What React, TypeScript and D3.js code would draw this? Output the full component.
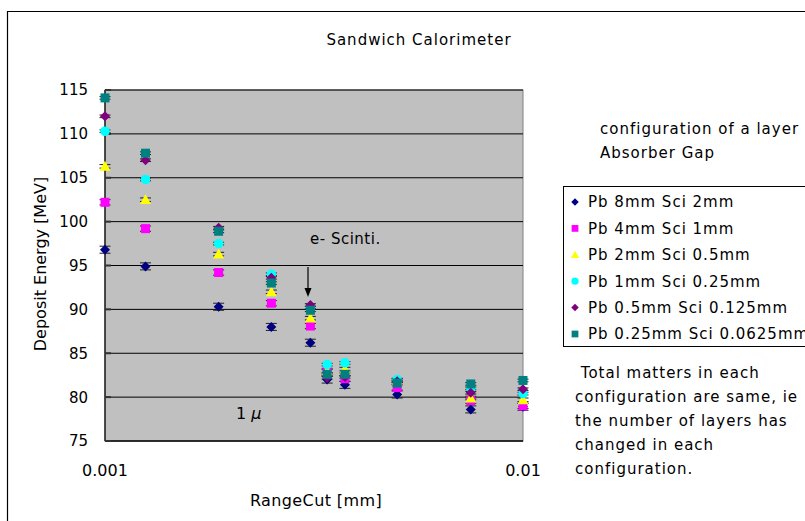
import React from "react";
import * as d3 from "d3";

const rangeCuts = [0.001, 0.00125, 0.00187, 0.0025, 0.0031, 0.0034, 0.00375, 0.005, 0.0075, 0.01];
const seriesNames = [
  "Pb 8mm Sci 2mm",
  "Pb 4mm Sci 1mm",
  "Pb 2mm Sci 0.5mm",
  "Pb 1mm Sci 0.25mm",
  "Pb 0.5mm Sci 0.125mm",
  "Pb 0.25mm Sci 0.0625mm",
];
const pb8 = [96.8, 94.9, 90.3, 88.0, 86.2, 82.0, 81.4, 80.3, 78.6, 78.9];
const pb4 = [102.2, 99.2, 94.2, 90.7, 88.1, 82.9, 82.1, 81.1, 79.6, 79.0];
const pb2 = [106.3, 102.5, 96.3, 92.0, 89.0, 83.0, 83.2, 81.9, 79.9, 79.7];
const pb1 = [110.3, 104.8, 97.5, 94.0, 90.2, 83.7, 83.9, 82.0, 81.0, 80.4];
const pb05 = [112.0, 107.0, 99.3, 93.6, 90.5, 82.2, 82.3, 81.8, 80.5, 80.9];
const pb025 = [114.1, 107.8, 98.9, 93.0, 89.9, 82.6, 82.6, 81.6, 81.5, 81.9];
const seriesErrors = [0.4, 0.3, 0.2, 0.15, 0.15, 0.15];
const yTicks = [75, 80, 85, 90, 95, 100, 105, 110, 115];
const xTickLabels = [
  { v: 0.001, label: "0.001" },
  { v: 0.01, label: "0.01" },
];
const colors = ["#000080", "#FF00FF", "#FFFF00", "#00FFFF", "#800080", "#008080"];
const shapes = ["diamond", "square", "triangle", "circle", "diamond", "square"];
const noteLines = [
  " Total matters in each",
  "configuration are same, ie",
  "the number of layers has",
  "changed in each",
  "configuration.",
];

const FONT = "'DejaVu Sans', sans-serif";

function Marker({ shape, x, y, color, s = 1 }: any) {
  if (shape === "diamond") {
    const r = 5 * s;
    return <path d={`M${x},${y - r}L${x + r},${y}L${x},${y + r}L${x - r},${y}Z`} fill={color} />;
  }
  if (shape === "square") {
    const r = 4.5 * s;
    return <rect x={x - r} y={y - r} width={2 * r} height={2 * r} fill={color} />;
  }
  if (shape === "triangle") {
    const r = 5.5 * s;
    return <path d={`M${x},${y - r}L${x + r},${y + r * 0.8}L${x - r},${y + r * 0.8}Z`} fill={color} />;
  }
  return <circle cx={x} cy={y} r={4.8 * s} fill={color} />;
}

export default function App() {
  const W = 805, H = 521;
  const left = 105, right = 523, top = 90, bottom = 441;
  const x = d3.scaleLog().domain([0.001, 0.01]).range([left, right]);
  const y = d3.scaleLinear().domain([75, 115]).range([bottom, top]);
  const all = [pb8, pb4, pb2, pb1, pb05, pb025];

  return (
    <svg width={W} height={H} style={{ position: "absolute", left: 0, top: 0, background: "#fff" }} fontFamily={FONT}>
      <rect x={0} y={0} width={W} height={H} fill="#fff" />
      {/* chart frame */}
      <path d={`M7.5,${H}V11.5H${W}`} fill="none" stroke="#000" strokeWidth={1.2} />
      {/* plot area */}
      <rect x={left} y={top} width={right - left} height={bottom - top} fill="#C0C0C0" stroke="#808080" strokeWidth={1} />
      {yTicks.map((t) => (
        <line key={t} x1={left} x2={right} y1={y(t)} y2={y(t)} stroke="#000" strokeWidth={1} />
      ))}
      <line x1={left} x2={left} y1={top} y2={bottom} stroke="#000" strokeWidth={1.2} />
      <line x1={left} x2={right} y1={bottom} y2={bottom} stroke="#000" strokeWidth={1.2} />
      {yTicks.map((t) => (
        <line key={"tk" + t} x1={left} x2={left + 6} y1={y(t)} y2={y(t)} stroke="#333" strokeWidth={2} />
      ))}
      {yTicks.map((t) => (
        <text key={"yl" + t} x={88} y={y(t)} dy="0.36em" textAnchor="end" fontSize={15}>
          {t}
        </text>
      ))}
      {xTickLabels.map((t) => (
        <text key={t.label} x={x(t.v)} y={470} dy="0.36em" textAnchor="middle" fontSize={16}>
          {t.label}
        </text>
      ))}
      <text x={316} y={500} dy="0.36em" textAnchor="middle" fontSize={16} letterSpacing={0.4}>RangeCut [mm]</text>
      <text transform={`translate(40,264) rotate(-90)`} dy="0.36em" textAnchor="middle" fontSize={16}>
        Deposit Energy [MeV]
      </text>
      <text x={419} y={40} dy="0.36em" textAnchor="middle" fontSize={15} letterSpacing={1}>Sandwich Calorimeter</text>

      {/* error bars */}
      {all.map((vals, si) =>
        vals.map((v, i) => {
          const cx = x(rangeCuts[i]);
          const e = seriesErrors[si];
          const y1 = y(v + e), y2 = y(v - e);
          return (
            <g key={`e${si}-${i}`} stroke="#202020" strokeWidth={1}>
              <line x1={cx} x2={cx} y1={y1} y2={y2} />
              <line x1={cx - 5.5} x2={cx + 5.5} y1={y1} y2={y1} />
              <line x1={cx - 5.5} x2={cx + 5.5} y1={y2} y2={y2} />
            </g>
          );
        })
      )}
      {/* markers */}
      {all.map((vals, si) =>
        vals.map((v, i) => (
          <Marker key={`m${si}-${i}`} shape={shapes[si]} x={x(rangeCuts[i])} y={y(v)} color={colors[si]} />
        ))
      )}

      {/* annotations */}
      <text x={310} y={239} dy="0.36em" textAnchor="start" fontSize={15} letterSpacing={0.5}>e- Scinti.</text>
      <line x1={308} x2={308} y1={267} y2={291} stroke="#000" strokeWidth={1.2} />
      <path d="M304.5,288L308,297L311.5,288Z" fill="#000" />
      <text x={236} y={413} dy="0.36em" fontSize={16}>
        1 <tspan fontStyle="italic">μ</tspan>
      </text>

      {/* right notes */}
      <text x={600} y={129} dy="0.36em" fontSize={15} letterSpacing={1}>configuration of a layer</text>
      <text x={600} y={153} dy="0.36em" fontSize={15} letterSpacing={1}>Absorber Gap</text>

      <rect x={563.5} y={186.5} width={260} height={160} fill="#fff" stroke="#000" strokeWidth={1} />
      {seriesNames.map((n, i) => {
        const ly = 202 + i * 26.4;
        return (
          <g key={n}>
            <Marker shape={shapes[i]} x={575} y={ly} color={colors[i]} s={0.75} />
            <text x={588} y={ly} dy="0.36em" fontSize={15} letterSpacing={1}>{n}</text>
          </g>
        );
      })}
      {noteLines.map((l, i) => (
        <text key={i} x={575} y={373 + i * 24} dy="0.36em" fontSize={15} letterSpacing={1} style={{ whiteSpace: "pre" }}>
          {l}
        </text>
      ))}
    </svg>
  );
}
